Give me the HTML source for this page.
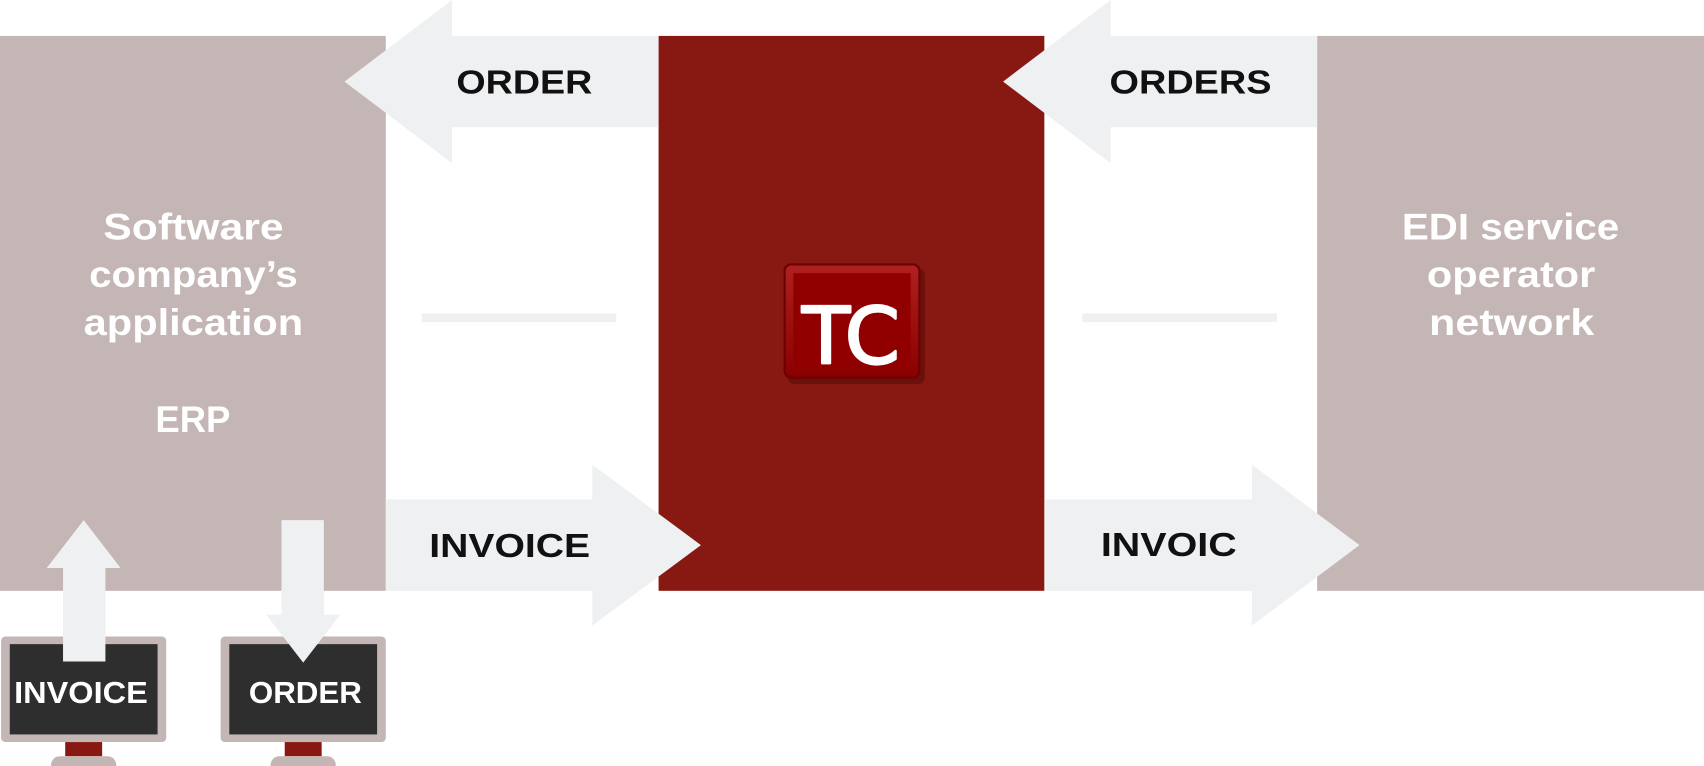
<!DOCTYPE html>
<html><head><style>html,body{margin:0;padding:0;background:#fff}svg{display:block}</style></head>
<body>
<svg width="1704" height="766" viewBox="0 0 1568 704" preserveAspectRatio="none" xmlns="http://www.w3.org/2000/svg" font-family="Liberation Sans, sans-serif" font-weight="bold">
<defs>
<linearGradient id="tc" x1="0" y1="0" x2="0" y2="1"><stop offset="0" stop-color="#b02020"/><stop offset="1" stop-color="#8a0000"/></linearGradient>
</defs>
<rect x="0" y="33" width="355" height="510" fill="#c4b6b4"/>
<rect x="606" y="33" width="355" height="510" fill="#881912"/>
<rect x="1212" y="33" width="356" height="510" fill="#c4b6b4"/>
<g fill="#eef0f2">
<polygon points="606,33 416,33 416,0 317,75 416,150 416,117 606,117"/>
<polygon points="1212,33 1022,33 1022,0 923,75 1022,150 1022,117 1212,117"/>
<polygon points="355,459 545,459 545,427 645,501 545,575 545,543 355,543"/>
<polygon points="962,459 1152,459 1152,427 1251,501 1152,575 1152,543 962,543"/>
<rect x="388" y="288" width="179" height="8"/>
<rect x="996" y="288" width="179" height="8"/>
</g>
<g font-size="31" fill="#111">
<text x="420" y="86" textLength="125" lengthAdjust="spacingAndGlyphs">ORDER</text>
<text x="1021" y="86" textLength="149" lengthAdjust="spacingAndGlyphs">ORDERS</text>
<text x="395" y="512" textLength="148" lengthAdjust="spacingAndGlyphs">INVOICE</text>
<text x="1013" y="511" textLength="125" lengthAdjust="spacingAndGlyphs">INVOIC</text>
</g>
<g font-size="34" fill="#fff">
<text x="95" y="220" textLength="166" lengthAdjust="spacingAndGlyphs">Software</text>
<text x="82" y="264" textLength="192" lengthAdjust="spacingAndGlyphs">company’s</text>
<text x="77" y="308" textLength="202" lengthAdjust="spacingAndGlyphs">application</text>
<text x="143" y="397" textLength="69" lengthAdjust="spacingAndGlyphs">ERP</text>
<text x="1290" y="220" textLength="200" lengthAdjust="spacingAndGlyphs">EDI service</text>
<text x="1313" y="264" textLength="155" lengthAdjust="spacingAndGlyphs">operator</text>
<text x="1315" y="308" textLength="152" lengthAdjust="spacingAndGlyphs">network</text>
</g>
<!-- TC logo -->
<rect x="725" y="247" width="126" height="106" rx="6" fill="#5a0a08" opacity="0.6"/>
<rect x="722" y="243" width="124" height="104" rx="6" fill="url(#tc)" stroke="#6d0000" stroke-width="2"/>
<rect x="730" y="251" width="108" height="88" fill="#900000"/>
<text x="738" y="334" textLength="90" lengthAdjust="spacingAndGlyphs" font-weight="normal" font-size="72" fill="#fff" stroke="#fff" stroke-width="2" stroke-linejoin="round" font-family="DejaVu Sans Condensed, DejaVu Sans, sans-serif">TC</text>
<!-- monitors -->
<g>
<rect x="1" y="585" width="152" height="97" rx="4" fill="#c4b6b4"/>
<rect x="9" y="592" width="136" height="83" fill="#2e2e2e"/>
<rect x="60" y="682" width="34" height="13" fill="#881912"/>
<rect x="47" y="695" width="60" height="16" rx="8" fill="#c4b6b4"/>
<rect x="203" y="585" width="152" height="97" rx="4" fill="#c4b6b4"/>
<rect x="211" y="592" width="136" height="83" fill="#2e2e2e"/>
<rect x="262" y="682" width="34" height="13" fill="#881912"/>
<rect x="249" y="695" width="60" height="16" rx="8" fill="#c4b6b4"/>
</g>
<g fill="#eef0f2">
<polygon points="58,608 97,608 97,522 111,522 77,478 43,522 58,522"/>
<polygon points="259,478 298,478 298,565 313,565 279,609 245,565 259,565"/>
</g>
<g font-size="28" fill="#fff">
<text x="13" y="646" textLength="123" lengthAdjust="spacingAndGlyphs">INVOICE</text>
<text x="229" y="646" textLength="104" lengthAdjust="spacingAndGlyphs">ORDER</text>
</g>
</svg>
</body></html>
